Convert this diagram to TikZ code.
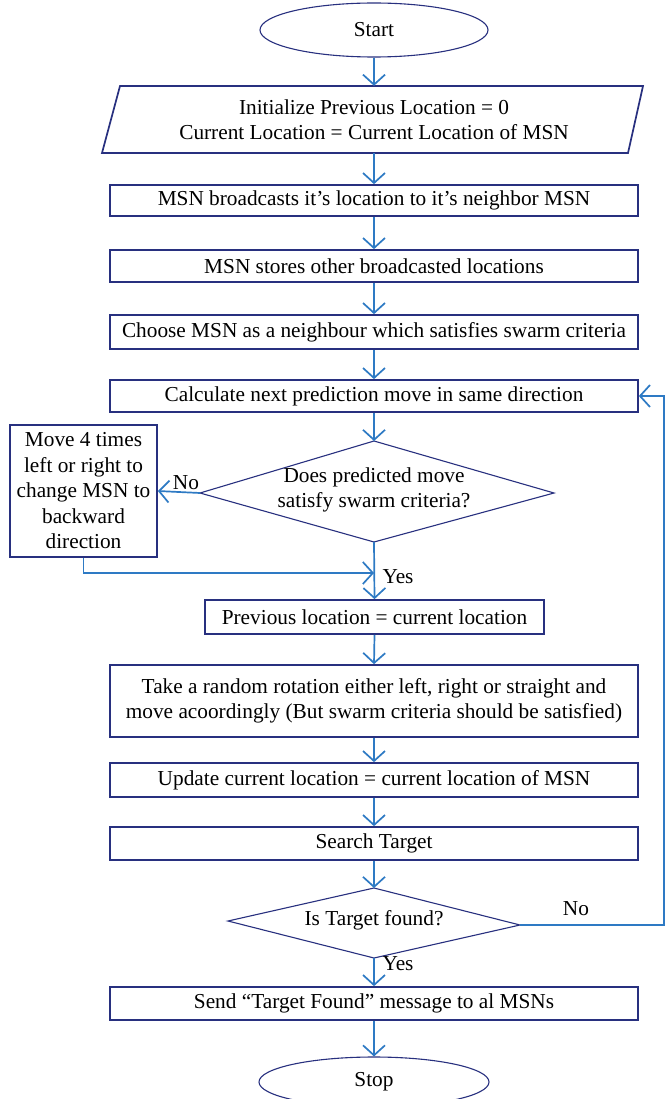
\documentclass[tikz,border=0pt]{standalone}
\usepackage{fontspec}
\setmainfont{Liberation Serif}
\usetikzlibrary{arrows.meta,shapes.geometric}
\definecolor{navy}{HTML}{28307F}
\definecolor{arrowblue}{HTML}{2E7AC4}
\begin{document}
\begin{tikzpicture}[x=1pt,y=-1pt,
  every node/.style={font=\fontsize{21.3}{25.5}\selectfont, inner sep=0pt},
  proc/.style={rectangle, draw=navy, line width=1.7pt, minimum width=528, align=center},
  term/.style={ellipse, draw=navy, line width=1.1pt, minimum width=228, minimum height=54},
  shapeline/.style={draw=navy, line width=1.1pt},
  conn/.style={draw=arrowblue, line width=1.7pt, -{Straight Barb[length=10pt,width=22pt,line width=1.7pt]}},
  lbl/.style={text=black}
]
\useasboundingbox (0,0) rectangle (671,1099);
\fill[white] (0,0) rectangle (671,1099);

% Start
\node[term] (start) at (374,30) {Start};

% parallelogram
\draw[navy, line width=1.7pt] (120,86) -- (643,86) -- (628,153) -- (102,153) -- cycle;
\node[minimum width=526, minimum height=67, align=center] (init) at (374,119.5)
  {Initialize Previous Location = 0\\Current Location = Current Location of MSN};

\node[proc, minimum height=31] (b1) at (374,200.5) {MSN broadcasts it’s location to it’s neighbor MSN};
\node[proc, minimum height=32] (b2) at (374,266) {MSN stores other broadcasted locations};
\node[proc, minimum height=34] (b3) at (374,332) {Choose MSN as a neighbour which satisfies swarm criteria};
\node[proc, minimum height=32] (b4) at (374,396) {Calculate next prediction move in same direction};

% diamond 1
\coordinate (d1t) at (374,441);
\coordinate (d1b) at (374,542);
\coordinate (d1l) at (200,493);
\coordinate (d1r) at (554,493);
\draw[shapeline] (d1t) -- (d1r) -- (d1b) -- (d1l) -- cycle;
\node[align=center] (d1) at (374,490) {Does predicted move\\satisfy swarm criteria?};

\node[proc, minimum width=147, minimum height=132] (left) at (83.5,491)
  {Move 4 times\\left or right to\\change MSN to\\backward\\direction};

\node[proc, minimum width=339, minimum height=34] (b5) at (374.5,617) {Previous location = current location};
\node[proc, minimum height=72] (b6) at (374,701) {Take a random rotation either left, right or straight and\\move acoordingly (But swarm criteria should be satisfied)};
\node[proc, minimum height=34] (b7) at (374,780) {Update current location = current location of MSN};
\node[proc, minimum height=33] (b8) at (374,843.5) {Search Target};

% diamond 2
\coordinate (d2t) at (374,888);
\coordinate (d2b) at (374,958);
\coordinate (d2l) at (228,921);
\coordinate (d2r) at (520,925);
\draw[shapeline] (d2t) -- (d2r) -- (d2b) -- (d2l) -- cycle;
\node (d2) at (374,920) {Is Target found?};

\node[proc, minimum height=33] (b9) at (374,1003.5) {Send “Target Found” message to al MSNs};
\node[term, minimum width=230, minimum height=50] (stop) at (374,1082) {Stop};

% connectors
\draw[conn] (start.south) -- (init.north);
\draw[conn] (init.south) -- (b1.north);
\draw[conn] (b1.south) -- (b2.north);
\draw[conn] (b2.south) -- (b3.north);
\draw[conn] (b3.south) -- (b4.north);
\draw[conn] (b4.south) -- (d1t);
\draw[conn] (d1l) -- (left.east);
\node[lbl] (no1) at (186,483) {No};
\draw[conn] (d1b) -- (b5.north);
\coordinate (j1) at (374,573);
\draw[conn] (left.south) |- (j1);
\node[lbl] (yes1) at (398,577) {Yes};
\draw[conn] (b5.south) -- (b6.north);
\draw[conn] (b6.south) -- (b7.north);
\draw[conn] (b7.south) -- (b8.north);
\draw[conn] (b8.south) -- (d2t);
\coordinate (rr) at (664,925);
\draw[conn] (d2r) -- (rr) |- (b4.east);
\node[lbl] (no2) at (576,909) {No};
\draw[conn] (d2b) -- (b9.north);
\node[lbl] (yes2) at (398,964) {Yes};
\draw[conn] (b9.south) -- (stop.north);
\end{tikzpicture}
\end{document}
